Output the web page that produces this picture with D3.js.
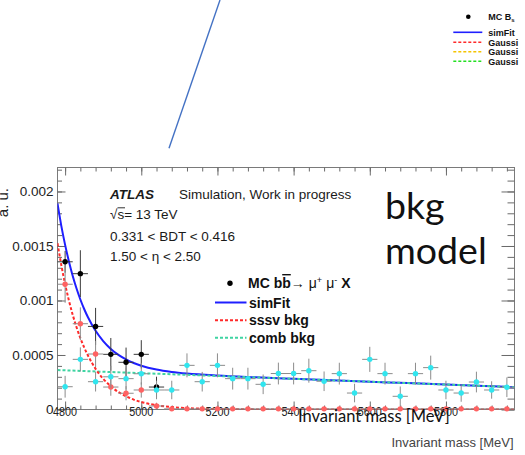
<!DOCTYPE html>
<html>
<head>
<meta charset="utf-8">
<script src="https://cdn.jsdelivr.net/npm/d3@7"></script>
<style>
  body { margin: 0; background: #fff; }
  svg { display: block; }
  text { font-family: "Liberation Sans", Arial, Helvetica, sans-serif; }
</style>
</head>
<body>
<script>
// ---- data (y values in units of 1e-3 a.u.) ----
const binCenters = [4800,4840,4880,4920,4960,5000,5040,5080,5120,5160,5200,5240,5280,5320,5360,
                    5400,5440,5480,5520,5560,5600,5640,5680,5720,5760,5800,5840,5880,5920,5960];
const binHalfWidth = 20;

// combinatorial background sample
const combValues = [0.209,0.460,0.255,0.300,0.283,0.328,0.179,0.179,0.405,0.255,0.405,0.283,0.283,0.231,0.330,
                    0.330,0.356,0.259,0.329,0.151,0.460,0.329,0.121,0.329,0.384,0.179,0.151,0.252,0.179,0.204];
const combErrors = [0.10,0.11,0.09,0.10,0.10,0.10,0.085,0.085,0.11,0.09,0.11,0.10,0.10,0.09,0.10,
                    0.10,0.11,0.09,0.10,0.085,0.115,0.10,0.09,0.10,0.11,0.085,0.08,0.095,0.08,0.09];

// same-sign secondary-vertex background sample
const sssvValues = [1.149,0.787,0.509,0.206,0.149,0.179,0.032,0.006,0.006,0.006,0.006,0.006,0.006,0.006,0.006,
                    0.006,0.006,0.006,0.006,0.006,0.006,0.006,0.006,0.006,0.006,0.006,0.006,0.006,0.006,0.006];
const sssvErrors = [0.17,0.15,0.12,0.08,0.065,0.07,0.03,0.005,0.005,0.005,0.005,0.005,0.005,0.005,0.005,
                    0.005,0.005,0.005,0.005,0.005,0.005,0.005,0.005,0.005,0.005,0.005,0.005,0.005,0.005,0.005];

// total MC (bb -> mu mu X), low-mass bins
const totalCenters = [4800,4840,4880,4920,4960,5000,5040];
const totalValues  = [1.355,1.246,0.762,0.506,0.433,0.506,0.206];
const totalErrors  = [0.10,0.215,0.17,0.15,0.135,0.13,0.095];

// fitted curves
const curveMass   = [4780,4790,4800,4810,4820,4830,4840,4850,4860,4880,4900,4920,4940,4960,4980,5000,
                     5040,5080,5120,5200,5300,5400,5500,5600,5700,5800,5900,5980];
const simFitCurve = [1.890,1.685,1.510,1.358,1.225,1.110,1.009,0.922,0.846,0.722,0.628,0.556,0.501,0.460,0.427,0.402,
                     0.367,0.345,0.330,0.311,0.295,0.281,0.268,0.255,0.242,0.229,0.216,0.205];
const sssvCurve   = [1.525,1.325,1.151,1.000,0.868,0.754,0.655,0.569,0.495,0.373,0.282,0.213,0.160,0.121,0.091,0.069,
                     0.039,0.022,0.013,0.004,0.001,0,0,0,0,0,0,0];
const combCurveMass = [4780,5380,5980];
const combCurve     = [0.362,0.284,0.205];

// axes
const xMajorTicks = [4800,5000,5200,5400,5600,5800];
const xTickLabels = ["4800","5000","5200","5400","5600","5800"];
const yMajorTicks = [0,0.5,1,1.5,2];
const yTickLabels = ["0","0.0005","0.001","0.0015","0.002"];

// legend of the side chart
const sideLegend = [
  {label:"simFit", color:"#1f1fff", dash:null},
  {label:"Gaussi", color:"#ff2a2a", dash:"3,2"},
  {label:"Gaussi", color:"#f5c400", dash:"3,2"},
  {label:"Gaussi", color:"#22e022", dash:"3,2"}
];

// ---- drawing ----
const W = 525, H = 455;
const svg = d3.select("body").append("svg").attr("width", W).attr("height", H);
svg.append("rect").attr("width", W).attr("height", H).attr("fill", "#fff");

const frame = {left: 57.5, right: 514.5, top: 167.5, bottom: 409.5};
const x = d3.scaleLinear().domain([4780, 5980]).range([frame.left, frame.right]);
const y = d3.scaleLinear().domain([0, 2.22]).range([frame.bottom, frame.top]);

svg.append("defs").append("clipPath").attr("id", "plotClip")
  .append("rect").attr("x", frame.left).attr("y", frame.top)
  .attr("width", frame.right - frame.left).attr("height", frame.bottom - frame.top);

// frame
svg.append("rect").attr("x", frame.left).attr("y", frame.top)
  .attr("width", frame.right - frame.left).attr("height", frame.bottom - frame.top)
  .attr("fill", "none").attr("stroke", "#7a7a7a").attr("stroke-width", 1);

function styleAxis(g) {
  g.select(".domain").remove();
  g.selectAll("line").attr("stroke", "#6a6a6a").attr("stroke-width", 1);
  g.selectAll("text").remove();
}
const xMinor = d3.range(4800, 5980, 40);
const yMinor = d3.range(0, 2.25, 0.1);

svg.append("g").attr("transform", `translate(0,${frame.bottom})`)
  .call(d3.axisBottom(x).tickValues(xMinor).tickSize(-4)).call(styleAxis);
svg.append("g").attr("transform", `translate(0,${frame.bottom})`)
  .call(d3.axisBottom(x).tickValues(xMajorTicks).tickSize(-8)).call(styleAxis);
svg.append("g").attr("transform", `translate(0,${frame.top})`)
  .call(d3.axisTop(x).tickValues(xMinor).tickSize(-4)).call(styleAxis);
svg.append("g").attr("transform", `translate(0,${frame.top})`)
  .call(d3.axisTop(x).tickValues(xMajorTicks).tickSize(-8)).call(styleAxis);
svg.append("g").attr("transform", `translate(${frame.left},0)`)
  .call(d3.axisLeft(y).tickValues(yMinor).tickSize(-4.5)).call(styleAxis);
svg.append("g").attr("transform", `translate(${frame.left},0)`)
  .call(d3.axisLeft(y).tickValues(yMajorTicks).tickSize(-8)).call(styleAxis);
svg.append("g").attr("transform", `translate(${frame.right},0)`)
  .call(d3.axisRight(y).tickValues(yMinor).tickSize(-7)).call(styleAxis);
svg.append("g").attr("transform", `translate(${frame.right},0)`)
  .call(d3.axisRight(y).tickValues(yMajorTicks).tickSize(-13)).call(styleAxis);

// tick labels
svg.append("g").selectAll("text").data(yMajorTicks).join("text")
  .attr("x", 53.5).attr("y", d => y(d) + 4.8)
  .attr("text-anchor", "end").attr("font-size", 13.5).attr("fill", "#222")
  .text((d, i) => yTickLabels[i]);
svg.append("g").selectAll("text").data(xMajorTicks).join("text")
  .attr("transform", d => `translate(${x(d)},415.5) scale(0.8,1)`)
  .attr("text-anchor", "middle").attr("font-size", 13.5).attr("fill", "#222")
  .text((d, i) => xTickLabels[i]);

// axis titles
svg.append("text").attr("transform", "translate(7.5,188) rotate(-90)")
  .attr("text-anchor", "end").attr("font-size", 15).attr("fill", "#222").text("a. u.");
svg.append("text").attr("x", 513.5).attr("y", 446.5).attr("text-anchor", "end")
  .attr("font-size", 13).attr("fill", "#444").text("Invariant mass [MeV]");

// curves
const plot = svg.append("g").attr("clip-path", "url(#plotClip)");
const line = (xs, ys) => d3.line().x((d, i) => x(xs[i])).y(d => y(d)).curve(d3.curveMonotoneX)(ys);
plot.append("path").attr("d", line(curveMass, simFitCurve))
  .attr("fill", "none").attr("stroke", "#1f1fff").attr("stroke-width", 2);
plot.append("path").attr("d", line(combCurveMass, combCurve))
  .attr("fill", "none").attr("stroke", "#3fd4a2").attr("stroke-width", 2).attr("stroke-dasharray", "3,2");
plot.append("path").attr("d", line(curveMass, sssvCurve))
  .attr("fill", "none").attr("stroke", "#ff2a2a").attr("stroke-width", 2).attr("stroke-dasharray", "3,2");

// data points with error bars
function drawPoints(centers, values, errors, fill, barColor) {
  const g = svg.append("g");
  const pts = g.selectAll("g").data(values).join("g");
  pts.append("line")
    .attr("x1", (d, i) => x(centers[i] - binHalfWidth)).attr("x2", (d, i) => x(centers[i] + binHalfWidth))
    .attr("y1", d => y(d)).attr("y2", d => y(d))
    .attr("stroke", barColor).attr("stroke-width", 1);
  pts.append("line")
    .attr("x1", (d, i) => x(centers[i])).attr("x2", (d, i) => x(centers[i]))
    .attr("y1", (d, i) => y(Math.max(0, d - errors[i]))).attr("y2", (d, i) => y(d + errors[i]))
    .attr("stroke", barColor).attr("stroke-width", 1);
  pts.append("circle")
    .attr("cx", (d, i) => x(centers[i])).attr("cy", d => y(d)).attr("r", 2.7)
    .attr("fill", fill);
}
drawPoints(totalCenters, totalValues, totalErrors, "#000", "#3a3a3a");
drawPoints(binCenters, sssvValues, sssvErrors, "#ff6262", "#8c8c8c");
drawPoints(binCenters, combValues, combErrors, "#30e6ef", "#8c8c8c");

// header text
const hdr = svg.append("g").attr("font-size", 13.5).attr("fill", "#1a1a1a");
hdr.append("text").attr("x", 110).attr("y", 198.5).attr("font-weight", "bold").attr("font-style", "italic").text("ATLAS");
hdr.append("text").attr("x", 179).attr("y", 198.5).text("Simulation, Work in progress");
const sq = hdr.append("text").attr("x", 110).attr("y", 218.5);
sq.append("tspan").text("\u221A");
sq.append("tspan").text("s= 13 TeV");
hdr.append("path").attr("d", "M117.5,207.8 H125").attr("stroke", "#1a1a1a").attr("stroke-width", 0.9);
hdr.append("text").attr("x", 110).attr("y", 240.5).text("0.331 < BDT < 0.416");
hdr.append("text").attr("x", 110).attr("y", 261).text("1.50 < \u03B7 < 2.50");

// legend
const lg = svg.append("g").attr("font-size", 14).attr("font-weight", "bold").attr("fill", "#111");
lg.append("circle").attr("cx", 230).attr("cy", 283.3).attr("r", 2.7).attr("fill", "#000");
const mc = lg.append("text").attr("x", 248).attr("y", 288);
mc.append("tspan").text("MC b");
mc.append("tspan").attr("text-decoration", "overline").text("b");
mc.append("tspan").attr("font-weight", "normal").text("\u2192");
mc.append("tspan").attr("font-weight", "normal").attr("dx", 4).text("\u03BC");
mc.append("tspan").attr("font-weight", "normal").attr("font-size", 9).attr("dy", -5).text("+");
mc.append("tspan").attr("font-weight", "normal").attr("dx", 4).attr("dy", 5).text("\u03BC");
mc.append("tspan").attr("font-weight", "normal").attr("font-size", 9).attr("dy", -5).text("-");
mc.append("tspan").attr("dx", 4).attr("dy", 5).text("X");
const legRows = [
  {label:"simFit",   y:302.5, color:"#1f1fff", dash:null},
  {label:"sssv bkg", y:320.3, color:"#ff2a2a", dash:"3,2"},
  {label:"comb bkg", y:337.8, color:"#3fd4a2", dash:"3,2"}
];
legRows.forEach(r => {
  lg.append("line").attr("x1", 215).attr("x2", 246.5).attr("y1", r.y).attr("y2", r.y)
    .attr("stroke", r.color).attr("stroke-width", 2).attr("stroke-dasharray", r.dash);
  lg.append("text").attr("x", 249).attr("y", r.y + 5).text(r.label);
});

// slide annotations
svg.append("line").attr("x1", 220).attr("y1", 0).attr("x2", 169).attr("y2", 148.3)
  .attr("stroke", "#4472c4").attr("stroke-width", 1.4);
const note = svg.append("g").attr("fill", "#111");
note.append("text").attr("x", 385).attr("y", 218.5).attr("font-size", 37.5).style("font-family", "Lato").text("bkg");
note.append("text").attr("x", 385).attr("y", 264).attr("font-size", 37.5).style("font-family", "Lato").text("model");
note.append("text").attr("x", 298).attr("y", 421.5).attr("font-size", 16.5).style("font-family", "Lato").text("Invariant mass [MeV]");

// legend of the side chart (top right)
const sl = svg.append("g").attr("font-size", 9).attr("font-weight", "bold").attr("fill", "#111");
sl.append("circle").attr("cx", 468.3).attr("cy", 16.7).attr("r", 2.3).attr("fill", "#000");
const bs = sl.append("text").attr("x", 488.3).attr("y", 20.3);
bs.append("tspan").text("MC B");
bs.append("tspan").attr("font-size", 6).attr("dy", 2).text("s");
const sideY = [32.3, 42.3, 51.7, 61.3];
sideLegend.forEach((d, i) => {
  sl.append("line").attr("x1", 453.3).attr("x2", 482.3).attr("y1", sideY[i]).attr("y2", sideY[i])
    .attr("stroke", d.color).attr("stroke-width", 1.6).attr("stroke-dasharray", d.dash);
  sl.append("text").attr("x", 488.3).attr("y", sideY[i] + 3.3).text(d.label);
});
</script>
</body>
</html>
